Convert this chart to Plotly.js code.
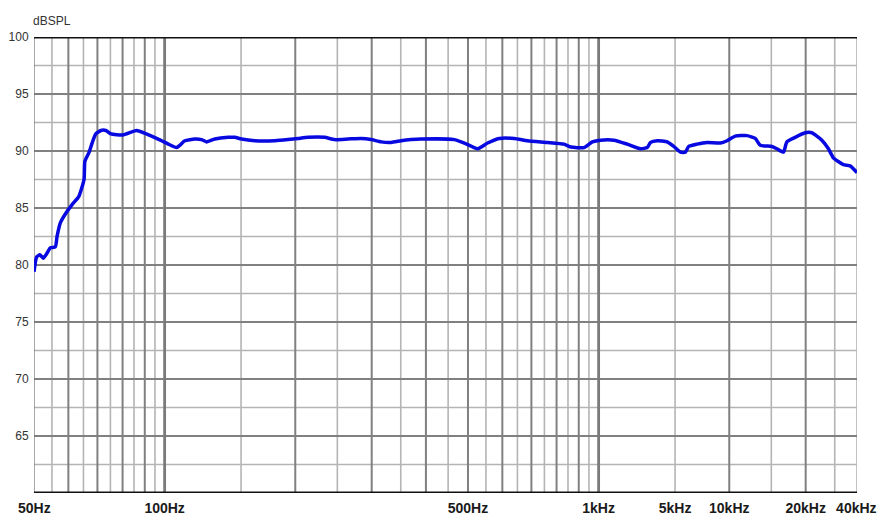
<!DOCTYPE html>
<html>
<head>
<meta charset="utf-8">
<script src="https://cdn.plot.ly/plotly-3.0.1.min.js"></script>
<style>html,body{margin:0;padding:0;background:#fff;}#chart{width:888px;height:531px;}</style>
</head>
<body>
<div id="chart"></div>
<script>
// Frequency positions (grid units of the chart) and SPL values
const freq = [50, 50.7, 51.6, 52.5, 53.5, 54.5, 56.0, 56.5, 57.5, 59.1, 61.2, 63.4, 65.2, 65.5, 67.0, 68.2, 69.4, 71.3, 73.2, 75.2, 80.1, 86.1, 90.8, 95.8, 98.4, 102, 106.6, 108.4, 111.3, 117.4, 121.6, 124.9, 130.5, 140.1, 145.1, 150.3, 161.3, 179.3, 192.5, 203, 214, 233.6, 246.4, 264.5, 283.8, 299.2, 315.4, 332.6, 350.6, 369.7, 389.8, 464.9, 490.2, 526.4, 554.9, 589.9, 638.9, 685.8, 762.4, 832.4, 862.5, 925.2, 967.2, 1010.7, 1084.5, 1164.2, 1249.3, 1294.2, 1317.1, 1364.6, 1438.8, 1489.8, 1543.6, 1585, 1613, 1686.4, 1778, 1907.9, 1976.8, 2065.4, 2197.4, 2296.2, 2357.8, 2507.8, 2575, 2666.7, 2715, 2837.3, 2992, 3099.7, 3268.4, 3384.8, 3475.6, 3664.4, 3796.6, 3939];
const spl = [79.4, 80.7, 80.9, 80.6, 81.0, 81.5, 81.6, 82.5, 83.7, 84.5, 85.3, 86.0, 87.5, 89.1, 89.9, 90.8, 91.5, 91.8, 91.8, 91.5, 91.4, 91.8, 91.5, 91.1, 90.9, 90.6, 90.3, 90.5, 90.9, 91.05, 91.0, 90.8, 91.05, 91.2, 91.2, 91.05, 90.9, 90.9, 91.0, 91.1, 91.2, 91.2, 91.0, 91.05, 91.1, 91.0, 90.8, 90.75, 90.9, 91.0, 91.05, 91.0, 90.7, 90.2, 90.7, 91.1, 91.1, 90.9, 90.75, 90.6, 90.35, 90.3, 90.8, 90.95, 90.95, 90.6, 90.2, 90.3, 90.75, 90.9, 90.8, 90.4, 89.9, 89.9, 90.4, 90.6, 90.75, 90.7, 90.9, 91.3, 91.35, 91.1, 90.5, 90.4, 90.2, 89.9, 90.8, 91.2, 91.6, 91.6, 90.95, 90.2, 89.4, 88.8, 88.7, 88.1];

// Axis ticks
const xTickVals = [50.1, 100, 500, 1000, 1500, 2000, 3000, 3925];
const xTickText = ['50Hz', '100Hz', '500Hz', '1kHz', '5kHz', '10kHz', '20kHz', '40kHz'];
const yTickVals = [65, 70, 75, 80, 85, 90, 95, 100];
const xMin = 50, xMax = 3939, yMin = 60, yMax = 100;

// Grid lines
const vGridThick = [100, 1000];
const vGridDark = [60, 70, 80, 90, 200, 300, 400, 500, 600, 700, 800, 900, 2000, 3000];
const vGridLight = [55, 65, 75, 85, 95, 150, 250, 350, 450, 550, 650, 750, 850, 950, 1500, 2500, 3500, 3939];
const hGridDark = [65, 70, 75, 80, 85, 90, 95];
const hGridLight = [62.5, 67.5, 72.5, 77.5, 82.5, 87.5, 92.5, 97.5];

const shapes = [];
function vline(x, color, w) {
  shapes.push({type:'line', xref:'x', yref:'y', x0:x, x1:x, y0:yMin, y1:yMax, layer:'below', line:{color:color, width:w}});
}
function hline(y, color, w) {
  shapes.push({type:'line', xref:'x', yref:'y', x0:xMin, x1:xMax, y0:y, y1:y, layer:'below', line:{color:color, width:w}});
}
hGridLight.forEach(y => hline(y, '#b4b4b4', 1.6));
vGridLight.forEach(x => vline(x, '#b4b4b4', 1.6));
hGridDark.forEach(y => hline(y, '#808080', 2.2));
vGridDark.forEach(x => vline(x, '#808080', 2));
vGridThick.forEach(x => vline(x, '#7a7a7a', 2.8));
vline(xMin, '#707070', 1.2);
hline(yMax, '#111111', 3);
hline(yMin, '#111111', 3);

const trace = {
  x: freq, y: spl, type: 'scatter', mode: 'lines',
  line: {color: '#0808e0', width: 3.5, shape: 'spline', smoothing: 0.5},
  hoverinfo: 'skip'
};

const layout = {
  width: 888, height: 531,
  margin: {l: 34, r: 31, t: 37, b: 38},
  paper_bgcolor: '#ffffff', plot_bgcolor: '#ffffff',
  showlegend: false,
  xaxis: {
    type: 'log', range: [Math.log10(xMin), Math.log10(xMax)],
    showgrid: false, zeroline: false, showline: false,
    tickmode: 'array', tickvals: xTickVals, ticktext: xTickText,
    ticks: 'outside', ticklen: 2, tickcolor: 'rgba(0,0,0,0)',
    tickfont: {family: 'Liberation Sans Narrow, Arial Narrow, Liberation Sans, Arial', size: 14, color: '#1a1a1a', weight: 'bold'}
  },
  yaxis: {
    range: [yMin, yMax],
    showgrid: false, zeroline: false, showline: false,
    tickmode: 'array', tickvals: yTickVals,
    ticks: 'outside', ticklen: 2, tickcolor: 'rgba(0,0,0,0)',
    tickfont: {family: 'Liberation Sans, Arial', size: 12, color: '#333333'}
  },
  shapes: shapes,
  annotations: [{
    text: 'dBSPL', xref: 'paper', yref: 'paper', x: 0, y: 1,
    xanchor: 'left', yanchor: 'bottom', yshift: 7, xshift: -3, showarrow: false,
    font: {family: 'Liberation Sans, Arial', size: 12, color: '#333333'}
  }]
};

Plotly.newPlot('chart', [trace], layout, {displayModeBar: false, staticPlot: true});
</script>
</body>
</html>
